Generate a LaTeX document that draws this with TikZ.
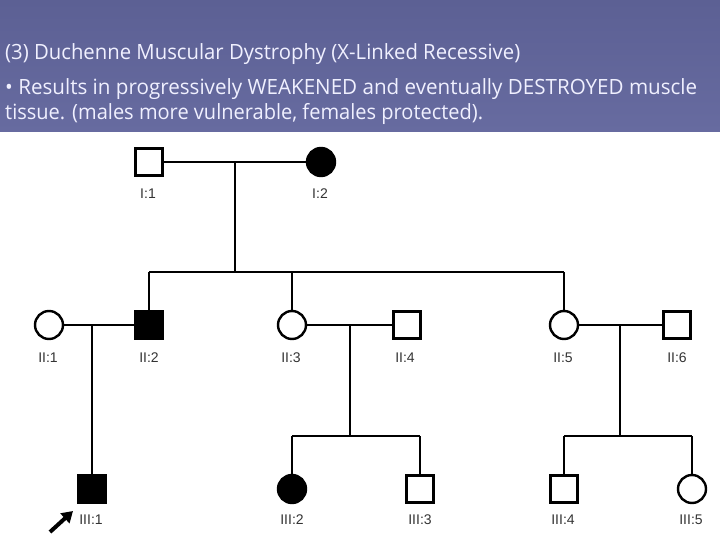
\documentclass[tikz,border=0pt]{standalone}
\usepackage{fontspec}
\setmainfont{Liberation Sans}
\newfontfamily\bannerfont{Open Sans}
\usetikzlibrary{arrows.meta}
\definecolor{bannerA}{HTML}{5C6094}
\definecolor{bannerB}{HTML}{676BA0}
\begin{document}
\begin{tikzpicture}[x=1pt,y=-1pt,
  male/.style={draw=black, line width=2.4pt, minimum size=27pt, inner sep=0pt, fill=white},
  female/.style={circle, draw=black, line width=2.4pt, minimum size=28pt, inner sep=0pt, fill=white},
  aff/.style={fill=black},
  lbl/.style={font=\fontsize{14}{16}\selectfont, text=black!80, inner sep=0pt},
  link/.style={line width=2pt, black},
  banner/.style={font=\bannerfont\fontsize{21}{24}\selectfont, text=white!94!blue, anchor=base west, inner sep=0pt}]
\useasboundingbox (0,0) rectangle (720,540);
\fill[white] (0,0) rectangle (720,540);
\shade[top color=bannerA, bottom color=bannerB] (0,0) rectangle (720,132);

\node[banner] (t1) at (5,60) {\resizebox{515pt}{\height}{(3) Duchenne Muscular Dystrophy (X-Linked Recessive)}};
\node[banner] (t2) at (5,95) {\resizebox{692pt}{\height}{• Results in progressively WEAKENED and eventually DESTROYED muscle}};
\node[banner] (t3) at (5,120) {\resizebox{478pt}{\height}{tissue. (males more vulnerable, females protected).}};

% generation I
\node[male] (I1) at (149,162) {};
\node[female,aff] (I2) at (321,162) {};
% generation II
\node[female] (II1) at (49,325) {};
\node[male,aff] (II2) at (149,325) {};
\node[female] (II3) at (292,325) {};
\node[male] (II4) at (407,325) {};
\node[female] (II5) at (564,325) {};
\node[male] (II6) at (677,325) {};
% generation III
\node[male,aff] (III1) at (92,489) {};
\node[female,aff] (III2) at (292,489) {};
\node[male] (III3) at (420,489) {};
\node[male] (III4) at (564,489) {};
\node[female] (III5) at (692,489) {};

% labels
\node[lbl] (lI1) at (148,194) {I:1};
\node[lbl] (lI2) at (320,194) {I:2};
\node[lbl] (lII1) at (48,358) {II:1};
\node[lbl] (lII2) at (149,358) {II:2};
\node[lbl] (lII3) at (291,358) {II:3};
\node[lbl] (lII4) at (405,358) {II:4};
\node[lbl] (lII5) at (563,358) {II:5};
\node[lbl] (lII6) at (677,358) {II:6};
\node[lbl] (lIII1) at (91,520) {III:1};
\node[lbl] (lIII2) at (292,520) {III:2};
\node[lbl] (lIII3) at (420,520) {III:3};
\node[lbl] (lIII4) at (563,520) {III:4};
\node[lbl] (lIII5) at (691,520) {III:5};

% connection points
\coordinate (m1) at (235,162);
\coordinate (d1) at (235,272);
\coordinate (s1a) at (149,272);
\coordinate (s1c) at (292,272);
\coordinate (s1b) at (564,272);
\coordinate (m2) at (92,325);
\coordinate (m3) at (350,325);
\coordinate (d3) at (350,436);
\coordinate (s3a) at (292,436);
\coordinate (s3b) at (420,436);
\coordinate (m4) at (620,325);
\coordinate (d4) at (620,436);
\coordinate (s4a) at (564,436);
\coordinate (s4b) at (692,436);

\draw[link] (I1) -- (I2);
\draw[link] (m1) -- (d1);
\draw[link] (s1a) -- (s1b);
\draw[link] (s1a) -- (II2);
\draw[link] (s1c) -- (II3);
\draw[link] (s1b) -- (II5);

\draw[link] (II1) -- (II2);
\draw[link] (m2) -- (III1);

\draw[link] (II3) -- (II4);
\draw[link] (m3) -- (d3);
\draw[link] (s3a) -- (s3b);
\draw[link] (s3a) -- (III2);
\draw[link] (s3b) -- (III3);

\draw[link] (II5) -- (II6);
\draw[link] (m4) -- (d4);
\draw[link] (s4a) -- (s4b);
\draw[link] (s4a) -- (III4);
\draw[link] (s4b) -- (III5);

% proband arrow
\coordinate (pa) at (50,532);
\coordinate (pb) at (73,511);
\draw[line width=4pt, -{Triangle[length=11pt,width=13pt]}] (pa) -- (pb);
\end{tikzpicture}
\end{document}
